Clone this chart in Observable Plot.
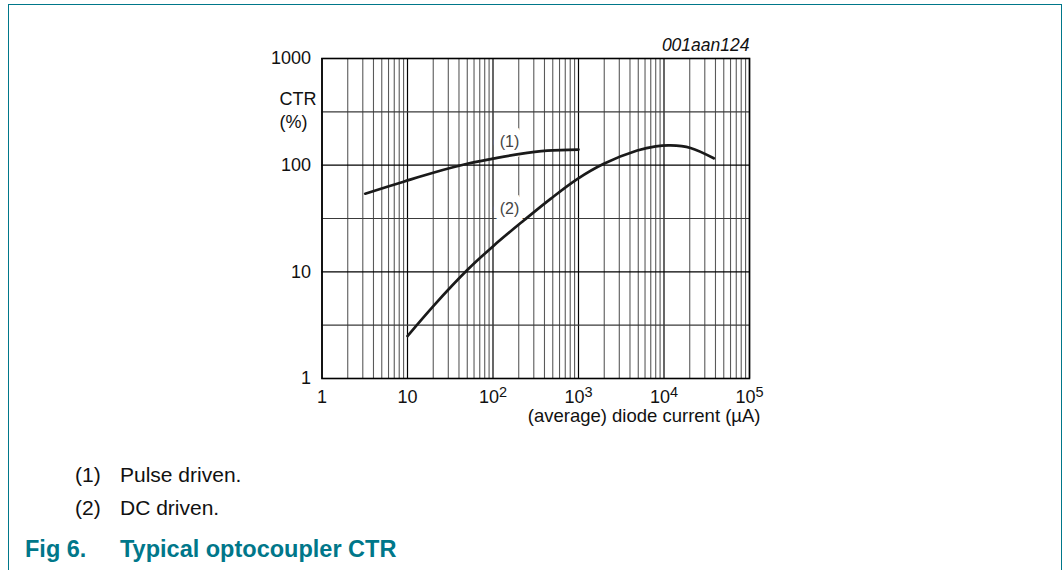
<!DOCTYPE html>
<html>
<head>
<meta charset="utf-8">
<script src="https://cdn.jsdelivr.net/npm/d3@7"></script>
<script src="https://cdn.jsdelivr.net/npm/@observablehq/plot@0.6"></script>
<style>
  html, body { margin: 0; padding: 0; background: #fff; }
  body { width: 1063px; height: 570px; position: relative; overflow: hidden; font-family: "Liberation Sans", Arial, sans-serif; }
  #frame { position: absolute; left: 8px; top: 4px; width: 1052px; height: 600px; border-top: 1.5px solid #00778a; border-left: 1.5px solid #00778a; border-right: 1.5px solid #00778a; }
  #chart { position: absolute; left: 0; top: 0; }
  .note { position: absolute; font-size: 21px; color: #111; line-height: 1; white-space: nowrap; }
  .fig { position: absolute; font-size: 23.5px; font-weight: bold; color: #00778a; line-height: 1; white-space: nowrap; }
</style>
</head>
<body>
<div id="frame"></div>
<div id="chart"></div>
<div class="note" style="left:75px; top:464px;">(1)</div>
<div class="note" style="left:120px; top:464px;">Pulse driven.</div>
<div class="note" style="left:75px; top:497px;">(2)</div>
<div class="note" style="left:120px; top:497px;">DC driven.</div>
<div class="fig" style="left:25px; top:537.5px;">Fig 6.</div>
<div class="fig" style="left:120px; top:537.5px;">Typical optocoupler CTR</div>
<script>
// ---- data ----
const xDecades = [1, 10, 100, 1000, 10000, 100000];
const xTickBase = ["1", "10", "10", "10", "10", "10"];
const xTickSup = ["", "", "2", "3", "4", "5"];
const minorMultipliers = [2, 3, 4, 5, 6, 7, 8, 9];
const yDecades = [1, 10, 100, 1000];
const yTickLabels = ["1", "10", "100", "1000"];
const yHalfGrid = [3.162, 31.62, 316.2];

// (1) Pulse driven
const pulseCurrent = [3.2, 9, 20, 50, 100, 200, 430, 1000];
const pulseCTR     = [54, 70, 85, 103, 115, 127, 137, 140];
// (2) DC driven
const dcCurrent = [10, 20.3, 50, 102, 229, 471, 966, 1977, 4860, 8000, 11900, 20400, 38200];
const dcCTR     = [2.5, 4.83, 10.4, 17.6, 30.3, 48.3, 74, 103, 137, 150, 153, 145, 116];

const curveLabels = [
  {x: 156, y: 166, text: "(1)"},
  {x: 156, y: 39.2, text: "(2)"}
];

// ---- derived tables ----
const minorX = xDecades.slice(0, -1).flatMap(d => minorMultipliers.map(m => d * m));
const pulse = pulseCurrent.map((x, i) => ({x, y: pulseCTR[i]}));
const dc = dcCurrent.map((x, i) => ({x, y: dcCTR[i]}));
const xTicks = xDecades.map((x, i) => ({x, base: xTickBase[i], sup: xTickSup[i]}));
const yTicks = yDecades.map((y, i) => ({y, label: yTickLabels[i]}));

const font = "'Liberation Sans', Arial, sans-serif";

const chart = Plot.plot({
  width: 1063,
  height: 430,
  marginLeft: 321.5,
  marginRight: 314,
  marginTop: 58,
  marginBottom: 52,
  x: {type: "log", domain: [1, 1e5], axis: null},
  y: {type: "log", domain: [1, 1000], axis: null},
  style: {fontFamily: font, fontSize: "18px", background: "transparent", color: "#111"},
  marks: [
    Plot.ruleX(minorX, {stroke: "#5a5a5a", strokeWidth: 1.1}),
    Plot.ruleX(xDecades, {stroke: "#000", strokeWidth: 1.2}),
    Plot.ruleY(yHalfGrid, {stroke: "#3a3a3a", strokeWidth: 1.1}),
    Plot.ruleY(yDecades, {stroke: "#000", strokeWidth: 1.2}),
    Plot.text(curveLabels, {x: "x", y: "y", text: "text", fontSize: 16, fill: "#444",
      stroke: "white", strokeWidth: 13, paintOrder: "stroke", strokeLinejoin: "miter"}),
    Plot.line(pulse, {x: "x", y: "y", stroke: "#1a1a1a", strokeWidth: 2.7, curve: "catmull-rom"}),
    Plot.line(dc, {x: "x", y: "y", stroke: "#1a1a1a", strokeWidth: 2.7, curve: "catmull-rom"}),
    Plot.frame({stroke: "#000", strokeWidth: 1.6}),
    // y tick labels
    Plot.text(yTicks, {x: () => 1, y: "y", text: "label", textAnchor: "end", dx: -11, fontSize: 18}),
    // x tick labels
    Plot.text(xTicks.filter(d => d.sup === ""), {x: "x", y: () => 1, text: "base", dy: 19, fontSize: 18}),
    Plot.text(xTicks.filter(d => d.sup !== ""), {x: "x", y: () => 1, text: "base", dy: 19, dx: 6, textAnchor: "end", fontSize: 18}),
    Plot.text(xTicks.filter(d => d.sup !== ""), {x: "x", y: () => 1, text: "sup", dy: 13.5, dx: 6, textAnchor: "start", fontSize: 14.5}),
    // axis titles
    Plot.text(["(average) diode current (\u00B5A)"], {frameAnchor: "bottom-right", dx: 11, dy: 38, textAnchor: "end", lineAnchor: "middle", fontSize: 18.5}),
    Plot.text(["CTR"], {frameAnchor: "top-left", dx: -42.5, dy: 41, lineAnchor: "middle", fontSize: 18}),
    Plot.text(["(%)"], {frameAnchor: "top-left", dx: -42.5, dy: 64, lineAnchor: "middle", fontSize: 18}),
    Plot.text(["001aan124"], {frameAnchor: "top-right", dy: -13, textAnchor: "end", lineAnchor: "middle", fontStyle: "italic", fontSize: 17.5})
  ]
});
document.getElementById("chart").appendChild(chart);
</script>
</body>
</html>
